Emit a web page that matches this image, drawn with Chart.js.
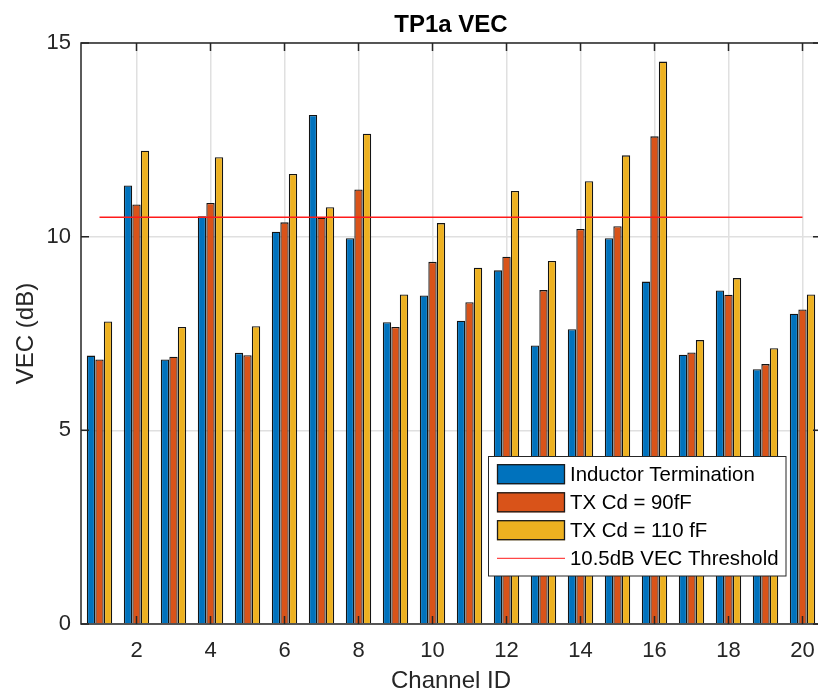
<!DOCTYPE html>
<html>
<head>
<meta charset="utf-8">
<title>TP1a VEC</title>
<script src="https://cdn.jsdelivr.net/npm/chart.js"></script>
<style>
  html, body { margin: 0; padding: 0; background: #fff; overflow: hidden; }
  #wrap { width: 830px; height: 692px; }
</style>
</head>
<body>
<div id="wrap"><canvas id="vecChart"></canvas></div>
<script>
  // channel ids and VEC values (dB)
  const channels = ["1", "2", "3", "4", "5", "6", "7", "8", "9", "10",
                    "11", "12", "13", "14", "15", "16", "17", "18", "19", "20"];
  const inductorTermination = [6.93, 11.32, 6.83, 10.53, 7.00, 10.13, 13.14, 9.96, 7.79, 8.48,
                               7.83, 9.13, 7.19, 7.61, 9.96, 8.84, 6.95, 8.61, 6.58, 8.01];
  const txCd90 = [6.83, 10.83, 6.90, 10.87, 6.94, 10.37, 10.49, 11.22, 7.67, 9.35,
                  8.31, 9.48, 8.62, 10.20, 10.27, 12.59, 7.01, 8.50, 6.71, 8.12];
  const txCd110 = [7.81, 12.22, 7.67, 12.05, 7.69, 11.62, 10.76, 12.66, 8.51, 10.35,
                   9.20, 11.18, 9.37, 11.43, 12.10, 14.52, 7.33, 8.93, 7.12, 8.51];
  const thresholdX = ["1", "20"];
  const thresholdY = [10.5, 10.5];
  const yTicks = [0, 5, 10, 15];

  const axisColor = "#262626";
  const gridColor = "#e0e0e0";
  const fontFamily = '"Liberation Sans", Arial, Helvetica, sans-serif';

  Chart.defaults.font.family = fontFamily;
  Chart.defaults.color = axisColor;

  const isEven = (i) => (i + 1) % 2 === 0;

  // title centred over the plot area, like MATLAB does
  const titlePlugin = {
    id: "plotTitle",
    afterDraw(chart) {
      const { ctx, chartArea } = chart;
      ctx.save();
      ctx.font = "bold 24px " + fontFamily;
      ctx.fillStyle = "#000";
      ctx.textAlign = "center";
      ctx.textBaseline = "middle";
      ctx.fillText("TP1a VEC", (chartArea.left + chartArea.right) / 2, 25);
      ctx.restore();
    },
  };

  // axes box with inward ticks on all four sides
  const boxPlugin = {
    id: "axesBox",
    afterDatasetsDraw(chart) {
      const { ctx, chartArea: a, scales } = chart;
      const tick = 8;
      ctx.save();
      ctx.strokeStyle = axisColor;
      ctx.lineWidth = 1.5;
      ctx.strokeRect(a.left, a.top, a.right - a.left, a.bottom - a.top);
      ctx.beginPath();
      channels.forEach((c, i) => {
        if (!isEven(i)) return;
        const x = scales.x.getPixelForValue(i);
        ctx.moveTo(x, a.bottom); ctx.lineTo(x, a.bottom - tick);
        ctx.moveTo(x, a.top); ctx.lineTo(x, a.top + tick);
      });
      yTicks.forEach((v) => {
        const y = scales.y.getPixelForValue(v);
        ctx.moveTo(a.left, y); ctx.lineTo(a.left + tick, y);
        ctx.moveTo(a.right, y); ctx.lineTo(a.right - tick, y);
      });
      ctx.stroke();
      ctx.restore();
    },
  };

  // boxed legend inside the axes, lower right
  const legendPlugin = {
    id: "boxLegend",
    afterDraw(chart) {
      const { ctx } = chart;
      const bx = 488.5, by = 456.5, bw = 297.5, bh = 119.5;
      const rowY = [474.2, 502.3, 530.2, 558.3];
      ctx.save();
      ctx.fillStyle = "#fff";
      ctx.fillRect(bx, by, bw, bh);
      ctx.strokeStyle = axisColor;
      ctx.lineWidth = 1;
      ctx.strokeRect(bx, by, bw, bh);
      ctx.font = "20.4px " + fontFamily;
      ctx.textBaseline = "middle";
      ctx.textAlign = "left";
      const order = [1, 2, 3, 0];
      order.forEach((di, row) => {
        const ds = chart.data.datasets[di];
        const cy = rowY[row];
        if (ds.type === "line") {
          ctx.strokeStyle = ds.borderColor;
          ctx.lineWidth = 1;
          ctx.beginPath();
          ctx.moveTo(497, cy); ctx.lineTo(565, cy);
          ctx.stroke();
        } else {
          ctx.fillStyle = ds.backgroundColor;
          ctx.fillRect(497, cy - 10, 68, 20);
          ctx.strokeStyle = "#1a1a1a";
          ctx.lineWidth = 1.3;
          ctx.strokeRect(497.5, cy - 9.5, 67, 19);
        }
        ctx.fillStyle = "#000";
        ctx.fillText(ds.label, 570, cy + 1);
      });
      ctx.restore();
    },
  };

  const barStyle = {
    borderColor: "#141414",
    borderWidth: 1.3,
    barPercentage: 0.98,
    categoryPercentage: 0.69,
    order: 1,
  };

  new Chart(document.getElementById("vecChart"), {
    type: "bar",
    data: {
      labels: channels,
      datasets: [
        {
          type: "line",
          label: "10.5dB VEC Threshold",
          data: thresholdX.map((x, i) => ({ x, y: thresholdY[i] })),
          borderColor: "#ff1a1a",
          borderWidth: 1.5,
          pointRadius: 0,
          fill: false,
          order: 0,
        },
        { label: "Inductor Termination", data: inductorTermination, backgroundColor: "#0072BD", ...barStyle },
        { label: "TX Cd = 90fF", data: txCd90, backgroundColor: "#D95319", ...barStyle },
        { label: "TX Cd = 110 fF", data: txCd110, backgroundColor: "#EDB120", ...barStyle },
      ],
    },
    options: {
      responsive: true,
      maintainAspectRatio: false,
      animation: false,
      layout: { padding: { top: 43, right: 9, bottom: 0, left: 0 } },
      plugins: {
        legend: { display: false },
        title: { display: false },
        tooltip: { enabled: false },
      },
      scales: {
        x: {
          type: "category",
          offset: true,
          afterFit: (scale) => { scale.height = 68; },
          grid: {
            offset: false,
            drawTicks: false,
            lineWidth: 1.5,
            color: (ctx) => (ctx.index !== undefined && isEven(ctx.index) ? gridColor : "rgba(0,0,0,0)"),
          },
          border: { display: false },
          ticks: {
            autoSkip: false,
            maxRotation: 0,
            padding: 14,
            font: { size: 22 },
            color: axisColor,
            callback: function (value, index) {
              return isEven(index) ? this.getLabelForValue(value) : "";
            },
          },
          title: {
            display: true,
            text: "Channel ID",
            font: { size: 24 },
            color: axisColor,
            padding: { top: 0, bottom: -4 },
          },
        },
        y: {
          min: 0,
          max: 15,
          afterFit: (scale) => { scale.width = 81; },
          grid: { drawTicks: false, lineWidth: 1.5, color: gridColor },
          border: { display: false },
          ticks: {
            stepSize: 5,
            padding: 10,
            font: { size: 22 },
            color: axisColor,
          },
          title: {
            display: true,
            text: "VEC (dB)",
            font: { size: 24 },
            color: axisColor,
            padding: { top: 12, bottom: 0 },
          },
        },
      },
    },
    plugins: [boxPlugin, legendPlugin, titlePlugin],
  });
</script>
</body>
</html>
